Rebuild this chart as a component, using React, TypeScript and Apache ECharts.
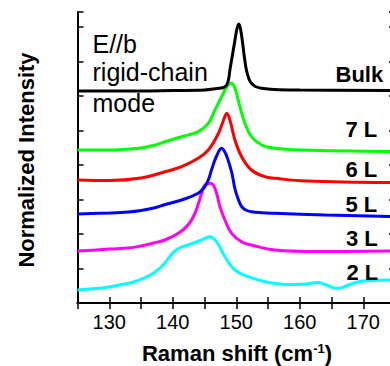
import React, { useEffect, useRef } from "react";
import * as echarts from "echarts";

// Raman shift (cm^-1) vs normalized intensity (vertically offset, arbitrary units)
const bulk: number[][] = [[125,212],[135,212],[140,212.5],[145,213],[147,214.5],[148,215.5],[148.5,218],[148.8,224],[149,233],[149.4,248],[149.8,263],[150.1,274],[150.4,279],[150.7,273],[151,260],[151.3,245],[151.6,233],[152,224],[152.4,219.7],[153,216.5],[154,214.7],[156,213.5],[160,213],[175,212.5]];
const layer7: number[][] = [[125,153],[130,153],[135,155],[137,157.5],[138.8,161.3],[141.4,166.3],[144.0,171.3],[145.6,179.7],[146.65,193],[147.7,206.3],[148.7,218],[149.27,219.7],[149.8,214.7],[150.58,196.3],[151.37,179.7],[152.4,166.3],[154.0,158],[156.1,154.7],[160,153],[175,151.5]];
const layer6: number[][] = [[125,123],[130,122.5],[135,125],[138.8,131.3],[141.4,136.3],[144.0,144.7],[145.6,153],[147.2,169.7],[148.2,186.3],[148.5,189.7],[149.0,183],[149.8,163],[150.85,146.3],[152.4,133],[154.5,126.3],[156.1,124.7],[161,122],[175,120.5]];
const layer5: number[][] = [[125,89],[130,90],[133,91],[135,92.5],[137,95],[138.8,98.5],[141.4,103],[144.0,109.7],[145.0,116],[145.6,123],[146.1,133],[146.9,147],[147.7,154.7],[148.2,151],[148.6,145],[149.27,131],[149.8,114],[150.3,104],[150.85,96.3],[151.5,93],[152.4,91.3],[154,90.3],[156.1,89.7],[164,88],[175,86.5]];
const layer3: number[][] = [[125,52],[128,53],[130,54],[133,55],[135,57],[137,60],[138.77,63],[140.9,69.7],[142.4,78],[143.5,89.7],[144.55,109.7],[145.07,118],[145.86,119.7],[146.65,114.7],[147.44,96.3],[148.22,83],[149.27,69.7],[150.85,61.3],[152.4,58],[156.1,53],[162.8,51.5],[175,52]];
const layer2: number[][] = [[125,13],[128,14.5],[130,16],[132,18.5],[133.8,21],[135.5,25],[137,30],[138,35],[138.77,40],[139.5,46],[140.34,52],[141.2,55.5],[142.4,58],[144.55,63],[145.86,66.3],[146.9,61.3],[148.22,46.3],[149.8,33],[151.9,26.3],[154.5,21.3],[156.1,19.7],[158.6,18.5],[161,19],[162.8,20.5],[164,18.5],[165.9,14.5],[167.5,17.5],[169.1,21],[171,22.5],[175,23]];

const seriesNames = ["Bulk", "7 L", "6 L", "5 L", "3 L", "2 L"];
const seriesColors = ["#000000", "#00ff00", "#ff0000", "#0000ff", "#ff00ff", "#00ffff"];
const seriesData = [bulk, layer7, layer6, layer5, layer3, layer2];
const xTickLabels = [130, 140, 150, 160, 170];
const annotationLines = ["E//b", "rigid-chain", "mode"];

const FONT = "'Liberation Sans', Arial, Helvetica, sans-serif";

export default function App() {
  const ref = useRef<HTMLDivElement>(null);
  useEffect(() => {
    if (!ref.current) return;
    const chart = echarts.init(ref.current, null, { renderer: "svg" });
    const axisLine = { show: true, lineStyle: { color: "#000", width: 2 } };
    const xCommon = {
      type: "value" as const,
      min: 125,
      max: 175,
      interval: 5,
      axisLine,
      splitLine: { show: false },
      axisTick: { show: true, inside: true, length: 6, lineStyle: { color: "#000", width: 1.5 } },
    };
    const yCommon = {
      type: "value" as const,
      min: 0,
      max: 291,
      interval: 34.5,
      axisLine,
      splitLine: { show: false },
      axisLabel: { show: false },
      axisTick: { show: true, inside: true, length: 6, lineStyle: { color: "#000", width: 1.5 } },
    };
    const labelY = [74.2, 129.2, 169.7, 204.2, 238.5, 272.5];
    const labelX = [335.5, 345.5, 345.5, 345.5, 346, 346.5];
    const annY = [44.2, 71.8, 103];
    chart.setOption({
      animation: false,
      backgroundColor: "#fff",
      grid: { left: 77.5, right: 5, top: 12, bottom: 63 },
      xAxis: [
        {
          ...xCommon,
          position: "bottom",
          axisLabel: {
            show: true,
            color: "#000",
            fontSize: 20,
            fontFamily: FONT,
            margin: 9,
            formatter: (v: number) => (xTickLabels.includes(v) ? String(v) : ""),
          },
        },
        { ...xCommon, position: "top", axisLabel: { show: false } },
      ],
      yAxis: [
        { ...yCommon, position: "left" },
        { ...yCommon, position: "right" },
      ],
      series: seriesData.map((d, i) => ({
        name: seriesNames[i],
        type: "line",
        data: d,
        smooth: 0.4,
        showSymbol: false,
        symbol: "none",
        lineStyle: { color: seriesColors[i], width: 3 },
        z: 10 - i,
      })),
      graphic: [
        ...annotationLines.map((t, i) => ({
          type: "text",
          x: 92.5,
          y: annY[i],
          z: 100,
          style: { text: t, fill: "#000", fontSize: 25, fontFamily: FONT, textAlign: "left", textVerticalAlign: "middle" },
        })),
        ...seriesNames.map((t, i) => ({
          type: "text",
          x: labelX[i],
          y: labelY[i],
          z: 100,
          style: { text: t, fill: "#000", fontSize: 22, fontWeight: "bold", fontFamily: FONT, textAlign: "left", textVerticalAlign: "middle" },
        })),
        {
          type: "text",
          x: 237,
          y: 353,
          z: 100,
          style: {
            text: "Raman shift (cm{sup|-1})",
            fill: "#000",
            fontSize: 22,
            fontWeight: "bold",
            fontFamily: FONT,
            textAlign: "center",
            textVerticalAlign: "middle",
            rich: {
              sup: { fontSize: 13, fontWeight: "bold", fontFamily: FONT, fill: "#000", verticalAlign: "top", lineHeight: 13 },
            },
          },
        },
        {
          type: "text",
          x: 26,
          y: 160,
          rotation: Math.PI / 2,
          z: 100,
          style: {
            text: "Normalized Intensity",
            fill: "#000",
            fontSize: 22,
            fontWeight: "bold",
            fontFamily: FONT,
            textAlign: "center",
            textVerticalAlign: "middle",
          },
        },
      ],
    });
    return () => chart.dispose();
  }, []);
  return (
    <div style={{ position: "fixed", left: 0, top: 0, width: 390, height: 366, overflow: "hidden", background: "#fff" }}>
      <div ref={ref} style={{ width: 400, height: 366 }} />
    </div>
  );
}
